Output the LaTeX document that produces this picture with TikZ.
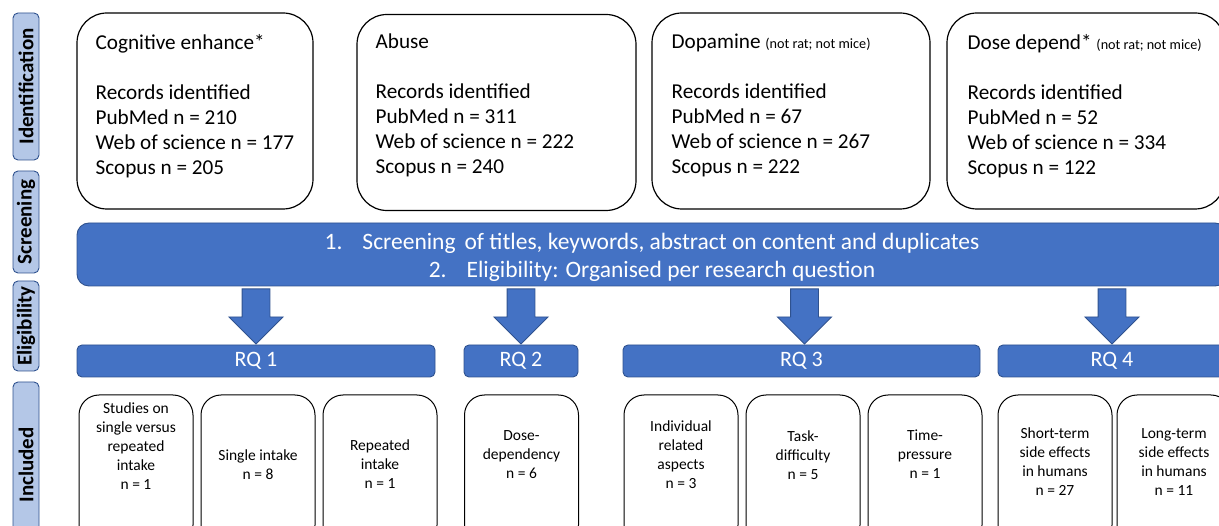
\documentclass[tikz,border=0pt]{standalone}
\usepackage{fontspec}
\setmainfont{Carlito}
\usetikzlibrary{positioning,shapes.arrows}

\definecolor{rqblue}{HTML}{4472C4}
\definecolor{rqedge}{HTML}{2F528F}
\definecolor{sidefill}{HTML}{B4C7E7}

\tikzset{
  stage/.style={draw=rqedge, fill=sidefill, rounded corners=5pt, rotate=90, minimum height=26pt, inner sep=0pt, line width=0.9pt, font=\fontsize{21}{25}\selectfont\bfseries},
  recbox/.style={draw, rounded corners=30pt, line width=1.2pt, minimum height=196pt},
  rectext/.style={anchor=north west, align=left, inner sep=0pt, font=\fontsize{21.2}{25}\selectfont},
  bluebar/.style={draw=rqedge, fill=rqblue, text=white, line width=0.9pt},
  rqbox/.style={bluebar, rounded corners=5pt, minimum height=32pt, font=\fontsize{22}{25}\selectfont},
  blockarr/.style={single arrow, shape border rotate=270, draw=rqedge, fill=rqblue, line width=0.9pt, inner sep=13.5pt, minimum height=55pt, single arrow head extend=13pt, anchor=tip},
  incbox/.style={draw, rounded corners=20pt, line width=1pt, minimum width=114pt, minimum height=150pt},
  inctext/.style={align=center, inner sep=0pt, font=\fontsize{15.5}{19}\selectfont}
}
\newcommand{\species}{{\fontsize{14.2}{16}\selectfont (not rat; not mice)}}

\begin{document}
\begin{tikzpicture}[x=1pt,y=-1pt]
  \useasboundingbox (0,0) rectangle (1219,526);
  \clip (0,0) rectangle (1219,526);

  % stages on the left
  \node[stage, minimum width=147pt] (ident) at (26,86.5) {Identification};
  \node[stage, minimum width=102pt] (scrn) at (26,222) {Screening};
  \node[stage, minimum width=90pt] (elig) at (26,326) {Eligibility};
  \node[stage, minimum width=166pt] (incl) at (26,465) {Included};

  % search records
  \node[recbox, minimum width=236pt] (cog) at (195,111) {};
  \node[rectext] (cogtxt) at ([xshift=19pt,yshift=-21.5pt]cog.north west)
    {Cognitive enhance*\\[25pt]Records identified\\PubMed n = 210\\Web of science n = 177\\Scopus n = 205};
  \node[recbox, minimum width=279pt] (abuse) at (496.5,112.5) {};
  \node[rectext] (abusetxt) at ([xshift=19pt,yshift=-19.5pt]abuse.north west)
    {Abuse\\[25pt]Records identified\\PubMed n = 311\\Web of science n = 222\\Scopus n = 240};
  \node[recbox, minimum width=278pt] (dopa) at (791,111) {};
  \node[rectext] (dopatxt) at ([xshift=20pt,yshift=-21.5pt]dopa.north west)
    {Dopamine \species\\[25pt]Records identified\\PubMed n = 67\\Web of science n = 267\\Scopus n = 222};
  \node[recbox, minimum width=278pt] (dose) at (1086,111) {};
  \node[rectext] (dosetxt) at ([xshift=21pt,yshift=-21.5pt]dose.north west)
    {Dose depend* \species\\[25pt]Records identified\\PubMed n = 52\\Web of science n = 334\\Scopus n = 122};

  % screening
  \node[bluebar, rounded corners=12pt, minimum width=1150pt, minimum height=63pt] (scr) at (652,254.5) {};
  \node[align=center, text=white, inner sep=0pt, font=\fontsize{23.5}{28}\selectfont] (scrtxt) at (652,257)
    {1.\hspace{20pt}Screening\hspace{9pt}of titles, keywords, abstract on content and duplicates\\
     2.\hspace{20pt}Eligibility: Organised per research question};

  % research questions
  \node[rqbox, minimum width=358pt] (rq1) at (256,361) {RQ 1};
  \node[rqbox, minimum width=114pt] (rq2) at (521,361) {RQ 2};
  \node[rqbox, minimum width=357pt] (rq3) at (801.5,361) {RQ 3};
  \node[rqbox, minimum width=228pt] (rq4) at (1112,361) {RQ 4};

  \node[blockarr] (arr1) at (rq1.north) {};
  \node[blockarr] (arr2) at (rq2.north) {};
  \node[blockarr] (arr3) at ([xshift=3pt]rq3.north) {};
  \node[blockarr] (arr4) at (rq4.north) {};

  % included studies
  \node[incbox] (inc1) at (136,470) {};
  \node[incbox, right=7pt of inc1] (inc2) {};
  \node[incbox, right=7pt of inc2] (inc3) {};
  \node[incbox] (inc4) at (521.5,470) {};
  \node[incbox] (inc5) at (681,470) {};
  \node[incbox, right=7pt of inc5] (inc6) {};
  \node[incbox, right=7pt of inc6] (inc7) {};
  \node[incbox] (inc8) at (1055,470) {};
  \node[incbox, right=4pt of inc8] (inc9) {};

  \node[inctext] (inc1t) at ([yshift=23.5pt]inc1.center) {Studies on\\single versus\\repeated\\intake\\n = 1};
  \node[inctext] (inc2t) at ([yshift=5pt]inc2.center) {Single intake\\n = 8};
  \node[inctext] (inc3t) at ([yshift=6pt]inc3.center) {Repeated\\intake\\n = 1};
  \node[inctext] (inc4t) at ([yshift=15pt]inc4.center) {Dose-\\dependency\\n = 6};
  \node[inctext] (inc5t) at ([yshift=15pt]inc5.center) {Individual\\related\\aspects\\n = 3};
  \node[inctext] (inc6t) at ([yshift=15pt]inc6.center) {Task-\\difficulty\\n = 5};
  \node[inctext] (inc7t) at ([yshift=16pt]inc7.center) {Time-\\pressure\\n = 1};
  \node[inctext] (inc8t) at ([yshift=8pt]inc8.center) {Short-term\\side effects\\in humans\\n = 27};
  \node[inctext] (inc9t) at ([yshift=8pt]inc9.center) {Long-term\\side effects\\in humans\\n = 11};
\end{tikzpicture}
\end{document}
